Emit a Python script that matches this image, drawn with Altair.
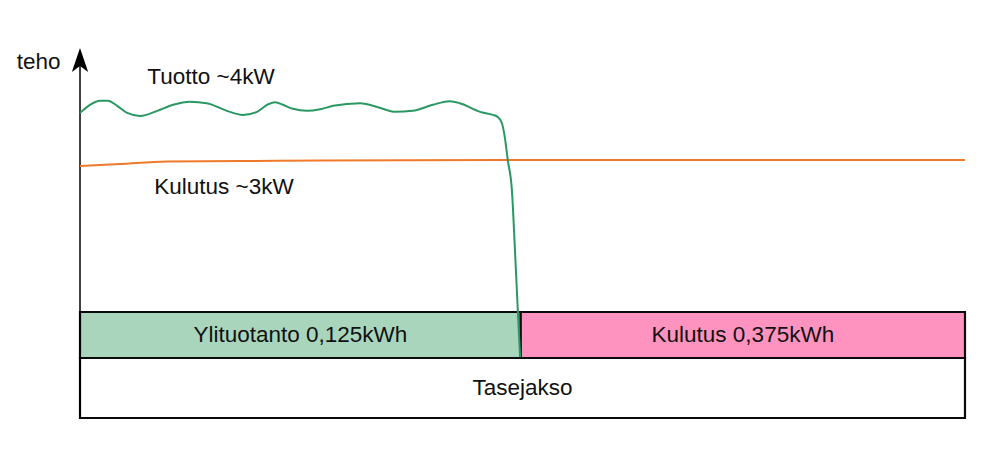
import altair as alt
import pandas as pd

# --- data (time in minutes within the 15-min balancing period, power in kW) ---
tuotto_t = [0.0, 0.17, 0.34, 0.47, 0.63, 0.80, 1.02, 1.31, 1.58, 1.86, 2.15, 2.49, 2.76,
            3.00, 3.19, 3.31, 3.44, 3.61, 3.85, 4.07, 4.29, 4.75, 5.08, 5.34, 5.64, 5.98,
            6.27, 6.44, 6.78, 7.00, 7.08, 7.15, 7.20, 7.25, 7.32, 7.37, 7.42, 7.46]
tuotto_kw = [3.93, 4.09, 4.17, 4.17, 4.07, 3.93, 3.87, 3.97, 4.09, 4.15, 4.12, 3.97, 3.89,
             3.95, 4.10, 4.14, 4.09, 4.01, 3.97, 4.00, 4.07, 4.12, 4.03, 3.95, 3.97, 4.09,
             4.16, 4.12, 3.95, 3.89, 3.85, 3.73, 3.45, 3.00, 2.41, 1.28, 0.04, -0.89]

kulutus_t = [0.0, 0.68, 1.47, 2.88, 4.07, 7.12, 15.0]
kulutus_kw = [2.88, 2.92, 2.97, 2.98, 2.99, 3.00, 3.00]

box_labels = ["Ylituotanto 0,125kWh", "Kulutus 0,375kWh", "Tasejakso"]
box_t0 = [0.0, 7.47, 0.0]
box_t1 = [7.47, 15.0, 15.0]
box_kw0 = [0.0, 0.0, -0.908]
box_kw1 = [-0.908, -0.908, -2.092]
box_fill = ["#a8d5bc", "#ff93bf", "#ffffff"]

note_text = ["teho", "Tuotto ~4kW", "Kulutus ~3kW"]
note_t = [-0.70, 2.22, 2.44]
note_kw = [4.93, 4.64, 2.47]

XS = alt.Scale(domain=[-1.2204, 15.5765], nice=False, zero=False)
YS = alt.Scale(domain=[-2.7237, 6.0], nice=False, zero=False)
FONT = "Liberation Sans"
FS = 22.5

boxes = pd.DataFrame({"label": box_labels, "t0": box_t0, "t1": box_t1,
                      "k0": box_kw0, "k1": box_kw1, "fill": box_fill})
boxes["tc"] = (boxes.t0 + boxes.t1) / 2
boxes["kc"] = (boxes.k0 + boxes.k1) / 2

rects = alt.Chart(boxes).mark_rect(stroke="#0a0a0a", strokeWidth=2.2).encode(
    x=alt.X("t0:Q", scale=XS, axis=None), x2="t1:Q",
    y=alt.Y("k0:Q", scale=YS, axis=None), y2="k1:Q",
    fill=alt.Fill("fill:N", scale=None),
)
rect_text = alt.Chart(boxes).mark_text(font=FONT, fontSize=FS, color="#111111",
                                       align="center", baseline="middle").encode(
    x=alt.X("tc:Q", scale=XS, axis=None), y=alt.Y("kc:Q", scale=YS, axis=None), text="label:N")

axis_df = pd.DataFrame({"t": [0.0], "k0": [-2.092], "k1": [5.0], "ka": [4.974]})
axis_rule = alt.Chart(axis_df).mark_rule(color="#000000", strokeWidth=1.5).encode(
    x=alt.X("t:Q", scale=XS, axis=None), y=alt.Y("k0:Q", scale=YS, axis=None), y2="k1:Q")
arrow = alt.Chart(axis_df).mark_point(
    shape="M0,-1L0.68,1L0,0.5L-0.68,1Z", size=576, filled=True, opacity=1,
    color="#000000", strokeWidth=0).encode(
    x=alt.X("t:Q", scale=XS, axis=None), y=alt.Y("ka:Q", scale=YS, axis=None))

tdf = pd.DataFrame({"t": tuotto_t, "kw": tuotto_kw})
kdf = pd.DataFrame({"t": kulutus_t, "kw": kulutus_kw})
green = alt.Chart(tdf).mark_line(color="#2a9862", strokeWidth=2, interpolate="monotone").encode(
    x=alt.X("t:Q", scale=XS, axis=None), y=alt.Y("kw:Q", scale=YS, axis=None))
orange = alt.Chart(kdf).mark_line(color="#ef7a2b", strokeWidth=2, interpolate="monotone").encode(
    x=alt.X("t:Q", scale=XS, axis=None), y=alt.Y("kw:Q", scale=YS, axis=None))

ndf = pd.DataFrame({"text": note_text, "t": note_t, "kw": note_kw})
notes = alt.Chart(ndf).mark_text(font=FONT, fontSize=FS, color="#111111",
                                 align="center", baseline="middle").encode(
    x=alt.X("t:Q", scale=XS, axis=None), y=alt.Y("kw:Q", scale=YS, axis=None), text="text:N")

chart = alt.layer(rects, rect_text, axis_rule, arrow, orange, green, notes).properties(
    width=991, height=442, padding=0,
    autosize=alt.AutoSizeParams(type="none"),
    background="#ffffff",
).configure_view(stroke=None)

chart.save("out.html", embed_options={"renderer": "svg", "actions": False})
